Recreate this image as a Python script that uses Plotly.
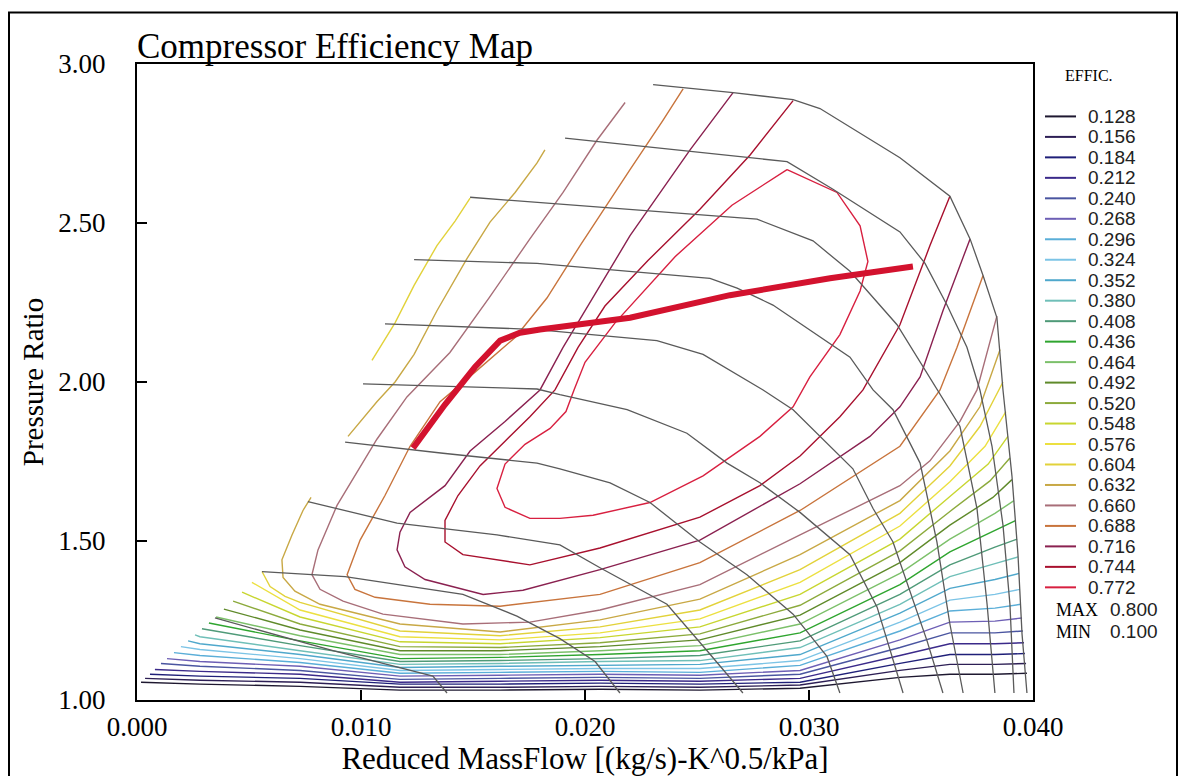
import plotly.graph_objects as go

# ---------------- efficiency levels & colours ----------------
LEVELS = [0.128, 0.156, 0.184, 0.212, 0.240, 0.268, 0.296, 0.324, 0.352, 0.380,
          0.408, 0.436, 0.464, 0.492, 0.520, 0.548, 0.576, 0.604, 0.632, 0.660,
          0.688, 0.716, 0.744, 0.772]
LEVEL_COLORS = ["#1e1830", "#2d1f55", "#1f1f78", "#3b2a8a", "#4a55a0", "#6d5fb5",
                "#5aaed8", "#7cc4e6", "#4fa8cc", "#6fbfb8", "#4f9a78", "#2fa52f",
                "#7cc06a", "#5f8a2a", "#8caa3c", "#c8d630", "#ece040", "#e2d23a",
                "#c8a845", "#a86e78", "#c8743c", "#8a2150", "#a8102e", "#d82040"]
EFF_MAX = 0.800
EFF_MIN = 0.100

# ---------------- efficiency contour lines (mass flow, pressure ratio) ----------------
eff_128_x = [0.00018, 0.00281, 0.00728, 0.01174, 0.01621, 0.02067, 0.02513, 0.02960, 0.03406, 0.03629, 0.03830, 0.03973]
eff_128_y = [1.056, 1.050, 1.043, 1.031, 1.031, 1.034, 1.031, 1.037, 1.071, 1.081, 1.081, 1.084]
eff_156_x = [0.00036, 0.00281, 0.00728, 0.01174, 0.01621, 0.02067, 0.02513, 0.02960, 0.03406, 0.03629, 0.03830, 0.03969]
eff_156_y = [1.068, 1.062, 1.056, 1.040, 1.040, 1.043, 1.040, 1.047, 1.093, 1.112, 1.112, 1.115]
eff_184_x = [0.00058, 0.00281, 0.00728, 0.01174, 0.01621, 0.02067, 0.02513, 0.02960, 0.03406, 0.03629, 0.03830, 0.03964]
eff_184_y = [1.081, 1.075, 1.068, 1.050, 1.050, 1.053, 1.050, 1.056, 1.115, 1.143, 1.143, 1.146]
eff_212_x = [0.00080, 0.00281, 0.00728, 0.01174, 0.01621, 0.02067, 0.02513, 0.02960, 0.03406, 0.03629, 0.03830, 0.03960]
eff_212_y = [1.096, 1.090, 1.081, 1.056, 1.059, 1.062, 1.059, 1.068, 1.140, 1.177, 1.177, 1.180]
eff_240_x = [0.00107, 0.00281, 0.00728, 0.01174, 0.01621, 0.02067, 0.02513, 0.02960, 0.03406, 0.03629, 0.03830, 0.03955]
eff_240_y = [1.115, 1.106, 1.093, 1.065, 1.068, 1.071, 1.068, 1.081, 1.165, 1.211, 1.211, 1.217]
eff_268_x = [0.00134, 0.00281, 0.00728, 0.01174, 0.01621, 0.02067, 0.02513, 0.02960, 0.03406, 0.03629, 0.03830, 0.03951]
eff_268_y = [1.130, 1.121, 1.106, 1.075, 1.078, 1.081, 1.078, 1.093, 1.189, 1.245, 1.248, 1.258]
eff_296_x = [0.00165, 0.00281, 0.00728, 0.01174, 0.01621, 0.02067, 0.02513, 0.02960, 0.03406, 0.03629, 0.03830, 0.03946]
eff_296_y = [1.149, 1.140, 1.118, 1.084, 1.087, 1.090, 1.087, 1.109, 1.217, 1.280, 1.289, 1.301]
eff_324_x = [0.00196, 0.00281, 0.00728, 0.01174, 0.01621, 0.02067, 0.02513, 0.02960, 0.03406, 0.03629, 0.03830, 0.03942]
eff_324_y = [1.168, 1.159, 1.130, 1.093, 1.096, 1.099, 1.099, 1.124, 1.245, 1.314, 1.332, 1.348]
eff_352_x = [0.00228, 0.00281, 0.00728, 0.01174, 0.01621, 0.02067, 0.02513, 0.02960, 0.03406, 0.03629, 0.03830, 0.03938]
eff_352_y = [1.186, 1.177, 1.143, 1.102, 1.106, 1.109, 1.112, 1.143, 1.273, 1.351, 1.379, 1.398]
eff_380_x = [0.00259, 0.00281, 0.00728, 0.01174, 0.01621, 0.02067, 0.02513, 0.02960, 0.03406, 0.03629, 0.03830, 0.03933]
eff_380_y = [1.205, 1.199, 1.155, 1.112, 1.115, 1.121, 1.124, 1.165, 1.301, 1.388, 1.429, 1.450]
eff_408_x = [0.00290, 0.00728, 0.01174, 0.01621, 0.02067, 0.02513, 0.02960, 0.03406, 0.03629, 0.03830, 0.03929]
eff_408_y = [1.224, 1.171, 1.121, 1.124, 1.130, 1.140, 1.186, 1.332, 1.425, 1.481, 1.506]
eff_436_x = [0.00321, 0.00728, 0.01174, 0.01621, 0.02067, 0.02513, 0.02960, 0.03406, 0.03629, 0.03830, 0.03924]
eff_436_y = [1.242, 1.186, 1.130, 1.134, 1.143, 1.155, 1.211, 1.363, 1.466, 1.534, 1.565]
eff_464_x = [0.00353, 0.00728, 0.01174, 0.01621, 0.02067, 0.02513, 0.02960, 0.03406, 0.03629, 0.03830, 0.03915]
eff_464_y = [1.261, 1.202, 1.143, 1.143, 1.155, 1.171, 1.239, 1.398, 1.506, 1.587, 1.627]
eff_492_x = [0.00388, 0.00728, 0.01174, 0.01621, 0.02067, 0.02513, 0.02960, 0.03406, 0.03629, 0.03821, 0.03906]
eff_492_y = [1.286, 1.220, 1.155, 1.155, 1.168, 1.189, 1.267, 1.432, 1.550, 1.637, 1.693]
eff_520_x = [0.00429, 0.00728, 0.01174, 0.01621, 0.02067, 0.02513, 0.02960, 0.03406, 0.03629, 0.03808, 0.03897]
eff_520_y = [1.311, 1.239, 1.168, 1.165, 1.180, 1.208, 1.298, 1.469, 1.593, 1.689, 1.761]
eff_548_x = [0.00469, 0.00728, 0.01174, 0.01621, 0.02067, 0.02513, 0.02960, 0.03406, 0.03629, 0.03800, 0.03888]
eff_548_y = [1.339, 1.261, 1.183, 1.177, 1.196, 1.230, 1.332, 1.506, 1.640, 1.742, 1.829]
eff_576_x = [0.00513, 0.00728, 0.01174, 0.01621, 0.02067, 0.02513, 0.02960, 0.03406, 0.03629, 0.03786, 0.03879]
eff_576_y = [1.370, 1.283, 1.199, 1.189, 1.211, 1.255, 1.370, 1.547, 1.686, 1.798, 1.907]
eff_604_x = [0.01487, 0.01420, 0.01339, 0.01237, 0.01152, 0.01085, 0.01049, None,
             0.00558, 0.00594, 0.00661, 0.00728, 0.01174, 0.01621, 0.02067, 0.02513, 0.02960, 0.03406, 0.03629, 0.03763, 0.03866]
eff_604_y = [2.578, 2.506, 2.429, 2.304, 2.186, 2.109, 2.068, None,
             1.404, 1.357, 1.326, 1.307, 1.217, 1.202, 1.230, 1.283, 1.410, 1.587, 1.736, 1.860, 2.000]
eff_632_x = [0.01821, 0.01786, 0.01688, 0.01576, 0.01473, 0.01339, 0.01237, 0.01152, 0.01071, 0.00996, 0.00942, None,
             0.00777, 0.00741, 0.00692, 0.00647, 0.00652, 0.00705, 0.00817, 0.01174, 0.01621, 0.02067, 0.02513, 0.02960, 0.03406, 0.03629, 0.03763, 0.03853]
eff_632_y = [2.730, 2.689, 2.596, 2.503, 2.388, 2.224, 2.087, 2.000, 1.938, 1.876, 1.829, None,
             1.637, 1.596, 1.519, 1.441, 1.385, 1.342, 1.301, 1.239, 1.214, 1.252, 1.317, 1.457, 1.627, 1.783, 1.922, 2.102]
eff_660_x = [0.02179, 0.02054, 0.01902, 0.01754, 0.01571, 0.01397, 0.01205, 0.01071, 0.00893, 0.00808, 0.00781, 0.00817,
             0.00920, 0.01098, 0.01455, 0.01754, 0.02067, 0.02513, 0.02960, 0.03406, 0.03540, 0.03674, 0.03750, 0.03839]
eff_660_y = [2.879, 2.761, 2.596, 2.450, 2.264, 2.093, 1.953, 1.820, 1.612, 1.472, 1.394, 1.348,
             1.311, 1.270, 1.239, 1.245, 1.283, 1.363, 1.519, 1.674, 1.752, 1.876, 1.975, 2.208]
eff_688_x = [0.02438, 0.02348, 0.02201, 0.01978, 0.01830, 0.01688, 0.01509, 0.01353, 0.01219, 0.01107, 0.00996, 0.00938,
             0.00973, 0.01063, 0.01308, 0.01621, 0.02067, 0.02513, 0.02960, 0.03272, 0.03406, 0.03585, 0.03661, 0.03777]
eff_688_y = [2.922, 2.823, 2.668, 2.429, 2.264, 2.140, 2.031, 1.938, 1.798, 1.643, 1.503, 1.394,
             1.348, 1.323, 1.301, 1.295, 1.332, 1.432, 1.596, 1.736, 1.798, 1.975, 2.109, 2.335]
eff_716_x = [0.02661, 0.02469, 0.02201, 0.02036, 0.01902, 0.01799, 0.01643, 0.01487, 0.01375, 0.01219, 0.01174, 0.01161,
             0.01196, 0.01286, 0.01545, 0.01723, 0.02067, 0.02513, 0.02960, 0.03272, 0.03406, 0.03496, 0.03598, 0.03719]
eff_716_y = [2.910, 2.730, 2.460, 2.264, 2.109, 1.975, 1.876, 1.783, 1.674, 1.590, 1.528, 1.472,
             1.419, 1.379, 1.332, 1.345, 1.410, 1.503, 1.680, 1.829, 1.922, 2.016, 2.224, 2.450]
eff_744_x = [0.02929, 0.02737, 0.02513, 0.02281, 0.02089, 0.01969, 0.01866, 0.01754, 0.01643, 0.01531, 0.01433, 0.01375,
             0.01375, 0.01455, 0.01754, 0.02067, 0.02513, 0.02781, 0.02960, 0.03138, 0.03241, 0.03406, 0.03540, 0.03629]
eff_744_y = [2.885, 2.714, 2.543, 2.382, 2.239, 2.109, 1.975, 1.891, 1.814, 1.736, 1.643, 1.565,
             1.497, 1.457, 1.425, 1.478, 1.575, 1.674, 1.767, 1.891, 1.975, 2.180, 2.429, 2.584]
eff_772_x = [0.02902, 0.03125, 0.03228, 0.03263, 0.03228, 0.03138, 0.03004, 0.02929, 0.02781, 0.02527, 0.02290, 0.02036, 0.01888,
             0.01754, 0.01643, 0.01607, 0.01643, 0.01732, 0.01844, 0.01915, 0.01951, 0.02000, 0.02134, 0.02402, 0.02656, 0.02902]
eff_772_y = [2.668, 2.596, 2.491, 2.379, 2.286, 2.149, 2.016, 1.922, 1.829, 1.705, 1.621, 1.581, 1.571,
             1.571, 1.606, 1.665, 1.742, 1.804, 1.854, 1.907, 1.975, 2.062, 2.186, 2.394, 2.556, 2.668]

# ---------------- constant-speed lines ----------------
speed_1_x = [0.00348, 0.00875, 0.01321, 0.01384]
speed_1_y = [1.258, 1.155, 1.075, 1.022]
speed_2_x = [0.00558, 0.00929, 0.01455, 0.01696, 0.01888, 0.02045, 0.02156]
speed_2_y = [1.404, 1.388, 1.332, 1.264, 1.193, 1.121, 1.022]
speed_3_x = [0.00763, 0.01161, 0.01607, 0.01888, 0.02067, 0.02366, 0.02545, 0.02705]
speed_3_y = [1.624, 1.556, 1.519, 1.488, 1.416, 1.301, 1.155, 1.022]
speed_4_x = [0.00929, 0.01366, 0.01786, 0.01888, 0.02112, 0.02290, 0.02513, 0.02723, 0.02929, 0.03080, 0.03138]
speed_4_y = [1.811, 1.776, 1.745, 1.727, 1.683, 1.621, 1.497, 1.394, 1.270, 1.137, 1.022]
speed_5_x = [0.01009, 0.01786, 0.01888, 0.02188, 0.02455, 0.02634, 0.02781, 0.02960, 0.03183, 0.03304, 0.03420]
speed_5_y = [1.994, 1.978, 1.960, 1.913, 1.839, 1.745, 1.683, 1.590, 1.457, 1.292, 1.022]
speed_6_x = [0.01107, 0.01786, 0.02321, 0.02527, 0.02795, 0.02929, 0.03196, 0.03286, 0.03375, 0.03451, 0.03527, 0.03598]
speed_6_y = [2.183, 2.165, 2.130, 2.087, 1.975, 1.913, 1.727, 1.602, 1.497, 1.342, 1.186, 1.022]
speed_7_x = [0.01237, 0.01786, 0.02558, 0.02679, 0.02839, 0.03183, 0.03286, 0.03375, 0.03496, 0.03571, 0.03629, 0.03688]
speed_7_y = [2.385, 2.373, 2.326, 2.295, 2.242, 2.078, 1.975, 1.913, 1.745, 1.497, 1.239, 1.022]
speed_8_x = [0.01487, 0.01786, 0.02768, 0.03018, 0.03183, 0.03393, 0.03571, 0.03674, 0.03750, 0.03795, 0.03830]
speed_8_y = [2.581, 2.565, 2.512, 2.444, 2.348, 2.180, 1.975, 1.860, 1.602, 1.301, 1.022]
speed_9_x = [0.01911, 0.02705, 0.02902, 0.03107, 0.03406, 0.03518, 0.03616, 0.03705, 0.03763, 0.03817, 0.03866, 0.03897, 0.03915]
speed_9_y = [2.767, 2.708, 2.693, 2.606, 2.472, 2.373, 2.242, 2.109, 1.975, 1.798, 1.550, 1.301, 1.022]
speed_10_x = [0.02304, 0.02661, 0.02929, 0.03049, 0.03406, 0.03629, 0.03719, 0.03777, 0.03839, 0.03866, 0.03906, 0.03933, 0.03951, 0.03973]
speed_10_y = [2.935, 2.910, 2.888, 2.860, 2.705, 2.584, 2.450, 2.335, 2.202, 1.975, 1.705, 1.457, 1.208, 1.022]

# ---------------- operating line ----------------
op_x = [0.01232, 0.01375, 0.01509, 0.01621, 0.01710, 0.01799, 0.02201, 0.02647, 0.03094, 0.03464]
op_y = [1.792, 1.929, 2.047, 2.130, 2.155, 2.165, 2.202, 2.273, 2.326, 2.363]

# ---------------- axes ----------------
X_TICKS = [0.000, 0.010, 0.020, 0.030, 0.040]
X_TICK_TEXT = ["0.000", "0.010", "0.020", "0.030", "0.040"]
Y_TICKS = [1.00, 1.50, 2.00, 2.50, 3.00]
Y_TICK_TEXT = ["1.00", "1.50", "2.00", "2.50", "3.00"]

contour_x = [eff_128_x, eff_156_x, eff_184_x, eff_212_x, eff_240_x, eff_268_x, eff_296_x, eff_324_x,
             eff_352_x, eff_380_x, eff_408_x, eff_436_x, eff_464_x, eff_492_x, eff_520_x, eff_548_x,
             eff_576_x, eff_604_x, eff_632_x, eff_660_x, eff_688_x, eff_716_x, eff_744_x, eff_772_x]
contour_y = [eff_128_y, eff_156_y, eff_184_y, eff_212_y, eff_240_y, eff_268_y, eff_296_y, eff_324_y,
             eff_352_y, eff_380_y, eff_408_y, eff_436_y, eff_464_y, eff_492_y, eff_520_y, eff_548_y,
             eff_576_y, eff_604_y, eff_632_y, eff_660_y, eff_688_y, eff_716_y, eff_744_y, eff_772_y]
speed_x = [speed_1_x, speed_2_x, speed_3_x, speed_4_x, speed_5_x, speed_6_x, speed_7_x, speed_8_x, speed_9_x, speed_10_x]
speed_y = [speed_1_y, speed_2_y, speed_3_y, speed_4_y, speed_5_y, speed_6_y, speed_7_y, speed_8_y, speed_9_y, speed_10_y]

SERIF = "Liberation Serif, Times New Roman, serif"
SANS = "Liberation Sans, Arial, sans-serif"

fig = go.Figure()
for lev, col, xs, ys in zip(LEVELS, LEVEL_COLORS, contour_x, contour_y):
    fig.add_trace(go.Scatter(x=xs, y=ys, mode="lines", name=f"{lev:.3f}",
                             line=dict(color=col, width=1.4), hoverinfo="skip"))
for xs, ys in zip(speed_x, speed_y):
    fig.add_trace(go.Scatter(x=xs, y=ys, mode="lines", line=dict(color="#5a5a5a", width=1.3),
                             hoverinfo="skip"))
fig.add_trace(go.Scatter(x=op_x, y=op_y, mode="lines", line=dict(color="#d3122e", width=6),
                         hoverinfo="skip"))

# ---------------- layout ----------------
W, H = 1183, 776
ML, MR, MT, MB = 137, 150, 64, 69
PW, PH = W - ML - MR, H - MT - MB

def px_x(px):
    return (px - ML) / PW

def px_y(py):
    return (H - MB - py) / PH

shapes = [dict(type="rect", xref="paper", yref="paper", x0=px_x(9), x1=px_x(1177),
               y0=px_y(800), y1=px_y(12), line=dict(color="black", width=2), layer="below")]
annotations = [dict(text="EFFIC.", x=px_x(1063), y=px_y(76), xref="paper", yref="paper",
                    xanchor="left", yanchor="middle", showarrow=False,
                    font=dict(family=SERIF, size=16, color="black"))]
row0, drow = 117, 20.7
for i, (lev, col) in enumerate(zip(LEVELS, LEVEL_COLORS)):
    yy = px_y(row0 + i * drow)
    shapes.append(dict(type="line", xref="paper", yref="paper", x0=px_x(1045), x1=px_x(1076),
                       y0=yy, y1=yy, line=dict(color=col, width=2)))
    annotations.append(dict(text=f"{lev:.3f}", x=px_x(1086), y=yy, xref="paper", yref="paper",
                            xanchor="left", yanchor="middle", showarrow=False,
                            font=dict(family=SANS, size=19, color="#222")))
for lab, val, py in [("MAX", EFF_MAX, 616), ("MIN", EFF_MIN, 638)]:
    annotations.append(dict(text=lab, x=px_x(1054), y=px_y(py), xref="paper", yref="paper",
                            xanchor="left", yanchor="middle", showarrow=False,
                            font=dict(family=SERIF, size=18, color="black")))
    annotations.append(dict(text=f"{val:.3f}", x=px_x(1108), y=px_y(py), xref="paper", yref="paper",
                            xanchor="left", yanchor="middle", showarrow=False,
                            font=dict(family=SANS, size=19, color="#222")))

fig.update_layout(
    width=W, height=H, margin=dict(l=ML, r=MR, t=MT, b=MB),
    paper_bgcolor="white", plot_bgcolor="white", showlegend=False,
    font=dict(family=SERIF, color="black"),
    title=dict(text="Compressor Efficiency Map", x=0, xref="paper", xanchor="left",
               y=1 - 46 / H, yref="container", yanchor="middle",
               font=dict(family=SERIF, size=35, color="black")),
    xaxis=dict(range=[0, 0.04], tickvals=X_TICKS, ticktext=X_TICK_TEXT, ticks="inside",
               ticklen=10, tickwidth=2, tickcolor="black", showline=True, linecolor="black",
               linewidth=2, mirror=True, showgrid=False, zeroline=False,
               tickfont=dict(family=SERIF, size=27), ticklabelstandoff=2,
               title=dict(text="Reduced MassFlow [(kg/s)-K^0.5/kPa]",
                          font=dict(family=SERIF, size=31), standoff=0)),
    yaxis=dict(range=[1.0, 3.0], tickvals=Y_TICKS, ticktext=Y_TICK_TEXT, ticks="inside",
               ticklen=10, tickwidth=2, tickcolor="black", showline=True, linecolor="black",
               linewidth=2, mirror=True, showgrid=False, zeroline=False,
               tickfont=dict(family=SERIF, size=27), ticklabelstandoff=24,
               title=dict(text="Pressure Ratio", font=dict(family=SERIF, size=29), standoff=6)),
    shapes=shapes, annotations=annotations,
)

fig.write_html("out.html", config={"displayModeBar": False})
